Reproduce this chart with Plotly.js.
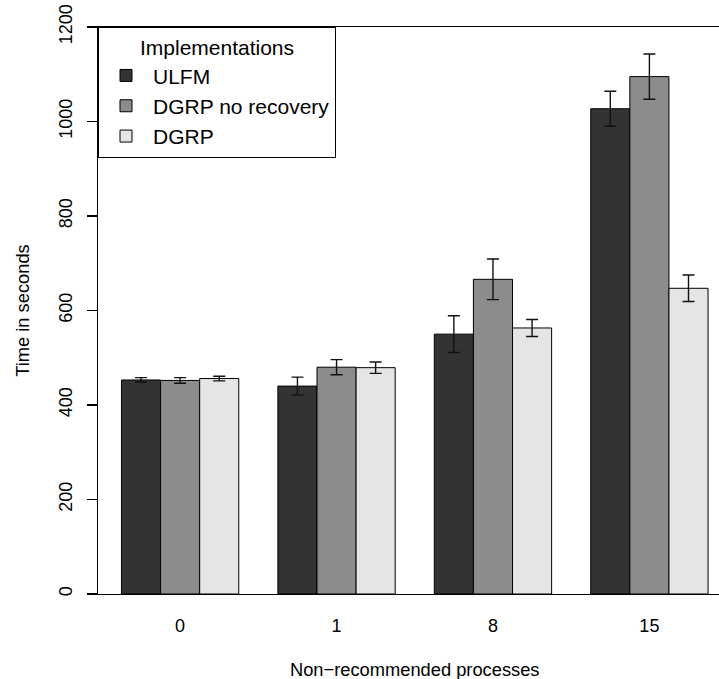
<!DOCTYPE html>
<html>
<head>
<meta charset="utf-8">
<script src="https://cdn.plot.ly/plotly-3.0.1.min.js"></script>
<style>
  html, body { margin: 0; padding: 0; background: #fff; }
  #chart { width: 719px; height: 679px; }
</style>
</head>
<body>
<div id="chart"></div>
<script>
// Non-recommended process counts (x categories)
const categories = ["0", "1", "8", "15"];

// Mean run time in seconds for each implementation
const ulfm        = [453, 440, 550, 1027];
const dgrpNoRec   = [452, 480, 666, 1095];
const dgrp        = [456, 479, 563, 647];

// Error bar half-widths (seconds)
const ulfmErr      = [5, 19, 39, 37];
const dgrpNoRecErr = [6, 16, 43, 48];
const dgrpErr      = [5, 12, 18, 28];

const seriesNames  = ["ULFM", "DGRP no recovery", "DGRP"];
const seriesColors = ["#333333", "#8c8c8c", "#e5e5e5"];

const FONT = "Liberation Sans, Arial, Helvetica, sans-serif";

function barTrace(name, values, errs, color) {
  return {
    type: "bar",
    name: name,
    x: categories,
    y: values,
    marker: { color: color, line: { color: "#000", width: 1 } },
    error_y: { type: "data", array: errs, visible: true,
               color: "#111", thickness: 1.4, width: 6 },
    hoverinfo: "y+name"
  };
}

const data = [
  barTrace(seriesNames[0], ulfm, ulfmErr, seriesColors[0]),
  barTrace(seriesNames[1], dgrpNoRec, dgrpNoRecErr, seriesColors[1]),
  barTrace(seriesNames[2], dgrp, dgrpErr, seriesColors[2])
];

const layout = {
  width: 719,
  height: 679,
  margin: { l: 98, r: 0, t: 27, b: 85, pad: 0 },
  paper_bgcolor: "#fff",
  plot_bgcolor: "#fff",
  font: { family: FONT, color: "#000", size: 18 },
  barmode: "group",
  bargap: 0.25,
  bargroupgap: 0,
  showlegend: true,
  legend: {
    x: 0, y: 1, xanchor: "left", yanchor: "top",
    bgcolor: "#fff",
    bordercolor: "#000",
    borderwidth: 1,
    font: { family: FONT, size: 21, color: "#000" },
    title: { text: "Implementations", side: "top center",
             font: { family: FONT, size: 21, color: "#000" } },
    itemwidth: 44,
    entrywidth: 188,
    traceorder: "normal"
  },
  xaxis: {
    type: "category",
    range: [-0.525, 3.445],
    showline: true,
    mirror: true,
    linecolor: "#000",
    linewidth: 1.2,
    ticks: "",
    showgrid: false,
    zeroline: false,
    tickfont: { family: FONT, size: 18 },
    ticklabelstandoff: 15
  },
  yaxis: {
    range: [0, 1200],
    tickvals: [0, 200, 400, 600, 800, 1000, 1200],
    ticktext: ["0", "200", "400", "600", "800", "1000", "1200"],
    tickangle: -90,
    ticks: "outside",
    ticklen: 10,
    tickwidth: 1.2,
    tickcolor: "#000",
    showline: true,
    linecolor: "#000",
    linewidth: 1.2,
    showgrid: false,
    zeroline: false,
    tickfont: { family: FONT, size: 18 },
    ticklabelstandoff: 8,
    title: { text: "Time in seconds", font: { family: FONT, size: 18.3 }, standoff: 21 }
  },
  annotations: [{
    text: "Non\u2212recommended processes",
    xref: "x", yref: "paper",
    x: 1.5, y: -0.133,
    xanchor: "center", yanchor: "middle",
    showarrow: false,
    font: { family: FONT, size: 18.3, color: "#000" }
  }]
};

Plotly.newPlot("chart", data, layout, { displayModeBar: false, staticPlot: true });
</script>
</body>
</html>
